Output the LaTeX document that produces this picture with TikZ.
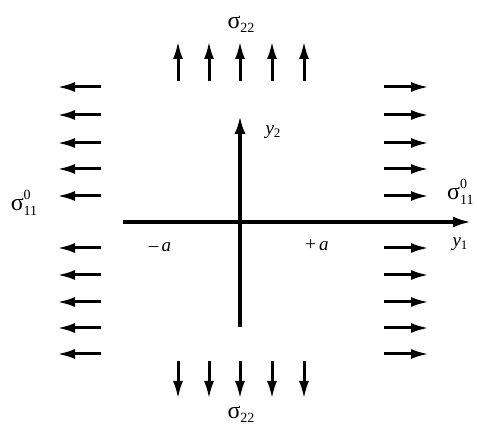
\documentclass[tikz,border=0pt]{standalone}
\usepackage{fontspec}
\setmainfont{Liberation Serif}
\usetikzlibrary{arrows.meta}
\newcommand{\smallidx}[1]{{\fontsize{14}{14}\selectfont #1}}
\newcommand{\sigmasub}[1]{σ\raisebox{-0.35ex}{\smallidx{#1}}}
\newcommand{\sigmasupsub}[2]{σ\makebox[0pt][l]{\raisebox{1.0ex}{\smallidx{#1}}}\raisebox{-0.45ex}{\smallidx{#2}}}
\newcommand{\varsub}[2]{\textit{#1}\raisebox{-0.35ex}{{\fontsize{13}{13}\selectfont #2}}}
\begin{document}
\begin{tikzpicture}[x=1pt,y=-1pt,
  stressarrow/.style={line width=3pt,-{Latex[length=18pt,width=10pt]}},
  axisline/.style={line width=3.2pt,-{Latex[length=18pt,width=11pt]}},
  biglbl/.style={font=\fontsize{24}{26}\selectfont, inner sep=0pt},
  smalllbl/.style={font=\fontsize{19}{21}\selectfont, inner sep=0pt}]
\useasboundingbox (0,0) rectangle (477,427);
\coordinate (O) at (240,222);
\coordinate (xl) at (123,222);
\coordinate (xr) at (471,222);
\coordinate (yb) at (240,327);
\coordinate (yt) at (240,116);
\draw[axisline] (xl) -- (xr);
\draw[axisline] (yb) -- (yt);
\foreach \y [count=\i] in {87,115,143,169,196,248,275,302,328,354}{
  \coordinate (lt\i) at (101,\y); \coordinate (lh\i) at (57,\y);
  \coordinate (rt\i) at (384,\y); \coordinate (rh\i) at (429,\y);
  \draw[stressarrow] (lt\i) -- (lh\i);
  \draw[stressarrow] (rt\i) -- (rh\i);
}
\foreach \x [count=\i] in {178,209,240,272,304}{
  \coordinate (tt\i) at (\x,81); \coordinate (th\i) at (\x,41);
  \coordinate (bt\i) at (\x,361); \coordinate (bh\i) at (\x,399);
  \draw[stressarrow] (tt\i) -- (th\i);
  \draw[stressarrow] (bt\i) -- (bh\i);
}
\node[biglbl] (s22top) at (241,24) {\sigmasub{22}};
\node[biglbl] (s22bot) at (241,414) {\sigmasub{22}};
\node[biglbl] (s11l) at (24,203) {\sigmasupsub{0}{11}};
\node[biglbl, anchor=west] (s11r) at (447,192) {\sigmasupsub{0}{11}};
\node[smalllbl] (y1) at (460,244) {\varsub{y}{1}};
\node[smalllbl] (y2) at (273,132) {\varsub{y}{2}};
\node[smalllbl] (ma) at (160,247) {\textendash\,\textit{a}};
\node[smalllbl] (pa) at (317,245) {+\,\textit{a}};
\end{tikzpicture}
\end{document}
